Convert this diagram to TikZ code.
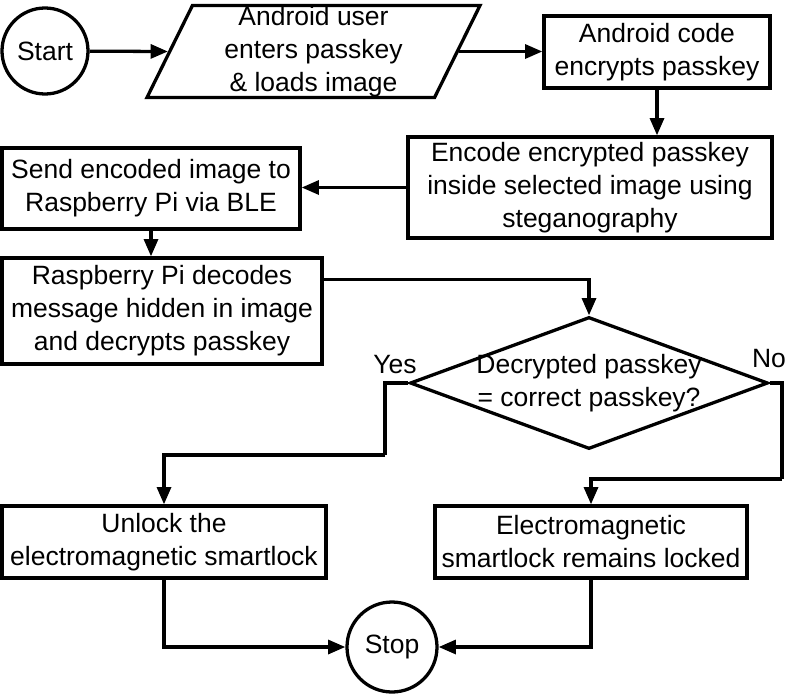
\documentclass[tikz,border=0pt]{standalone}
\usepackage{fontspec}
\setmainfont{Liberation Sans}
\usetikzlibrary{shapes.geometric,arrows.meta,positioning}

\tikzset{
  txt/.style={font=\fontsize{22.6}{28.2}\selectfont},
  flow/.style={txt, draw, line width=2.8pt, inner sep=0pt, align=center},
  procbox/.style={flow, rectangle},
  terminal/.style={flow, circle},
  inputbox/.style={flow, trapezium, trapezium left angle=63.4, trapezium right angle=116.6, trapezium stretches body},
  decision/.style={flow, diamond},
  link/.style={line width=2.8pt, -{Triangle[length=0.52cm,width=0.42cm]}},
  plain/.style={line width=2.8pt},
}

\begin{document}
\begin{tikzpicture}[x=0.03cm, y=-0.03cm]
    \useasboundingbox (0,0) rectangle (786,693);

    % Start and input
    \node[terminal, minimum size=2.58cm] (start) at (45,51) {Start};
    \node[inputbox, minimum width=9.99cm, minimum height=2.76cm] (input) at (313.5,51.5)
        {Android user\\enters passkey\\\& loads image};

    % Processing boxes
    \node[procbox, minimum width=6.78cm, minimum height=2.16cm] (encrypt) at (657,52)
        {Android code\\encrypts passkey};
    \node[procbox, minimum width=10.92cm, minimum height=3.03cm] (encode) at (590,187.5)
        {Encode encrypted passkey\\inside selected image using\\steganography};
    \node[procbox, minimum width=8.94cm, minimum height=2.43cm] (send) at (151,188.5)
        {Send encoded image to\\Raspberry Pi via BLE};
    \node[procbox, minimum width=9.6cm, minimum height=3.18cm] (decode) at (162,311)
        {Raspberry Pi decodes\\message hidden in image\\and decrypts passkey};

    % Decision
    \node[decision, minimum width=10.74cm, minimum height=3.96cm,
          label={[txt, align=center]center:Decrypted passkey\\= correct passkey?}] (check) at (589,383) {};
    \node[txt] (yes) at (395,365) {Yes};
    \node[txt] (no) at (769,359) {No};

    % Outcomes
    \node[procbox, minimum width=9.72cm, minimum height=2.16cm] (unlock) at (164,542)
        {Unlock the\\electromagnetic smartlock};
    \node[procbox, minimum width=9.36cm, minimum height=2.16cm] (locked) at (591,542)
        {Electromagnetic\\smartlock remains locked};
    \node[terminal, minimum size=2.7cm] (stop) at (392,647) {Stop};

    % Bends
    \coordinate (yesbend) at (385,455);
    \coordinate (nobend) at (782,479);

    % Connectors
    \draw[link] (start) -- (input.west);
    \draw[link] (input.east) -- (input.east -| encrypt.west);
    \draw[link] (encrypt.south) -- (encrypt.south |- encode.north);
    \draw[link] (encode.west) -- (encode.west -| send.east);
    \draw[link] (send.south) -- (send.south |- decode.north);
    \draw[link] ([yshift=-0.69cm]decode.north east) -| (check.north);
    \draw[plain] (check.west) -| (yesbend);
    \draw[link] (yesbend) -| (unlock.north);
    \draw[plain] (check.east) -| (nobend);
    \draw[link] (nobend) -| (locked.north);
    \draw[link] (unlock.south) |- (stop.west);
    \draw[link] (locked.south) |- (stop.east);
\end{tikzpicture}
\end{document}
